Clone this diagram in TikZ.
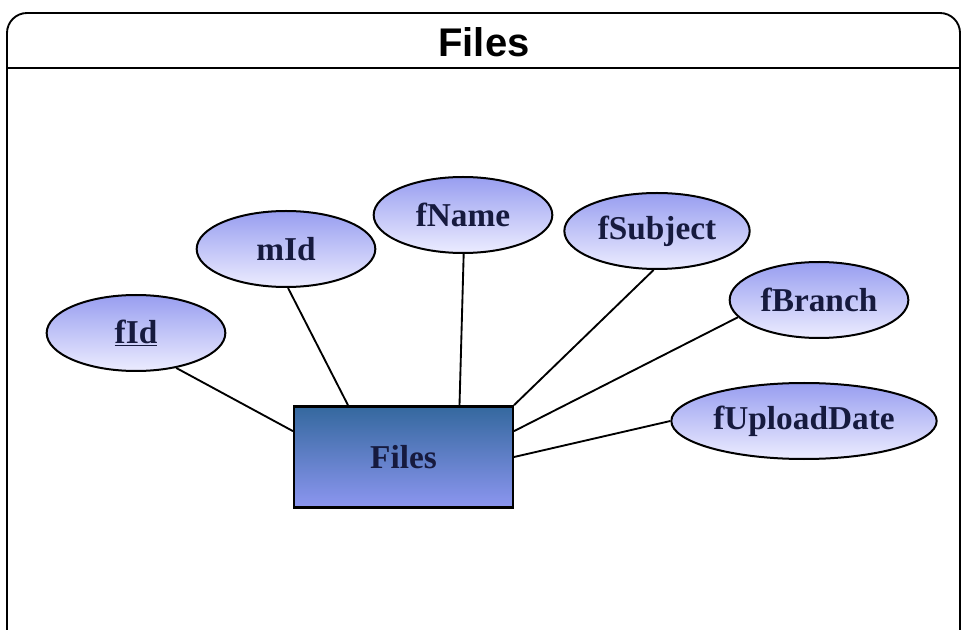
\documentclass[tikz,border=0pt]{standalone}
\usepackage{fontspec}
\setmainfont{Liberation Serif}
\newfontfamily\titlefont{Liberation Sans}
\usepackage{tikz}
\usetikzlibrary{shapes.geometric,calc}
\definecolor{entTop}{RGB}{52,104,158}
\definecolor{entBot}{RGB}{140,150,240}
\definecolor{attrTop}{RGB}{152,158,240}
\definecolor{attrBot}{RGB}{236,236,255}
\definecolor{labelInk}{RGB}{22,26,62}

\begin{document}
\begin{tikzpicture}[x=0.75pt,y=-0.75pt,
		attr/.style={ellipse,draw,line width=1.5pt,top color=attrTop,bottom color=attrBot,inner sep=0pt,minimum width=#1,minimum height=57pt,text=labelInk,font=\fontsize{25}{29}\selectfont\bfseries},
		attr/.default=134pt,
		entity/.style={rectangle,draw,line width=1.8pt,top color=entTop,bottom color=entBot,minimum width=164pt,minimum height=76pt,text=labelInk,font=\fontsize{25}{29}\selectfont\bfseries},
		link/.style={line width=1.4pt}]
			\useasboundingbox (0,0) rectangle (963,630);
			\clip (0,0) rectangle (963,630);
			\draw[line width=1.4pt,rounded corners=15pt] (7,13) rectangle (960,660);
			\draw[line width=1.4pt] (7,68) -- (960,68);
			\node[font=\titlefont\fontsize{30}{36}\selectfont\bfseries] (title) at (484,42) {Files};
			\node[entity] (ent) at (403.5,457) {Files};
			\node[attr] (fId) at (136,333) {\underline{fId}};
			\node[attr] (mId) at (286,249) {mId};
			\node[attr] (fName) at (463,215) {fName};
			\node[attr=139pt] (fSubject) at (657,231) {fSubject};
			\node[attr] (fBranch) at (819,300) {fBranch};
			\node[attr=199pt] (fUploadDate) at (804,421) {fUploadDate};
			\draw[link] (fId.-41) -- ($(ent.north west)+(0,26)$);
			\draw[link] (mId.-87) -- ($(ent.north west)+(55,0)$);
			\draw[link] (fName.-89) -- ($(ent.north)+(56,0)$);
			\draw[link] (fSubject.-95) -- (ent.north east);
			\draw[link] (fBranch.192) -- ($(ent.north east)+(0,26)$);
			\draw[link] (fUploadDate.west) -- (ent.east);
		\end{tikzpicture}
\end{document}
